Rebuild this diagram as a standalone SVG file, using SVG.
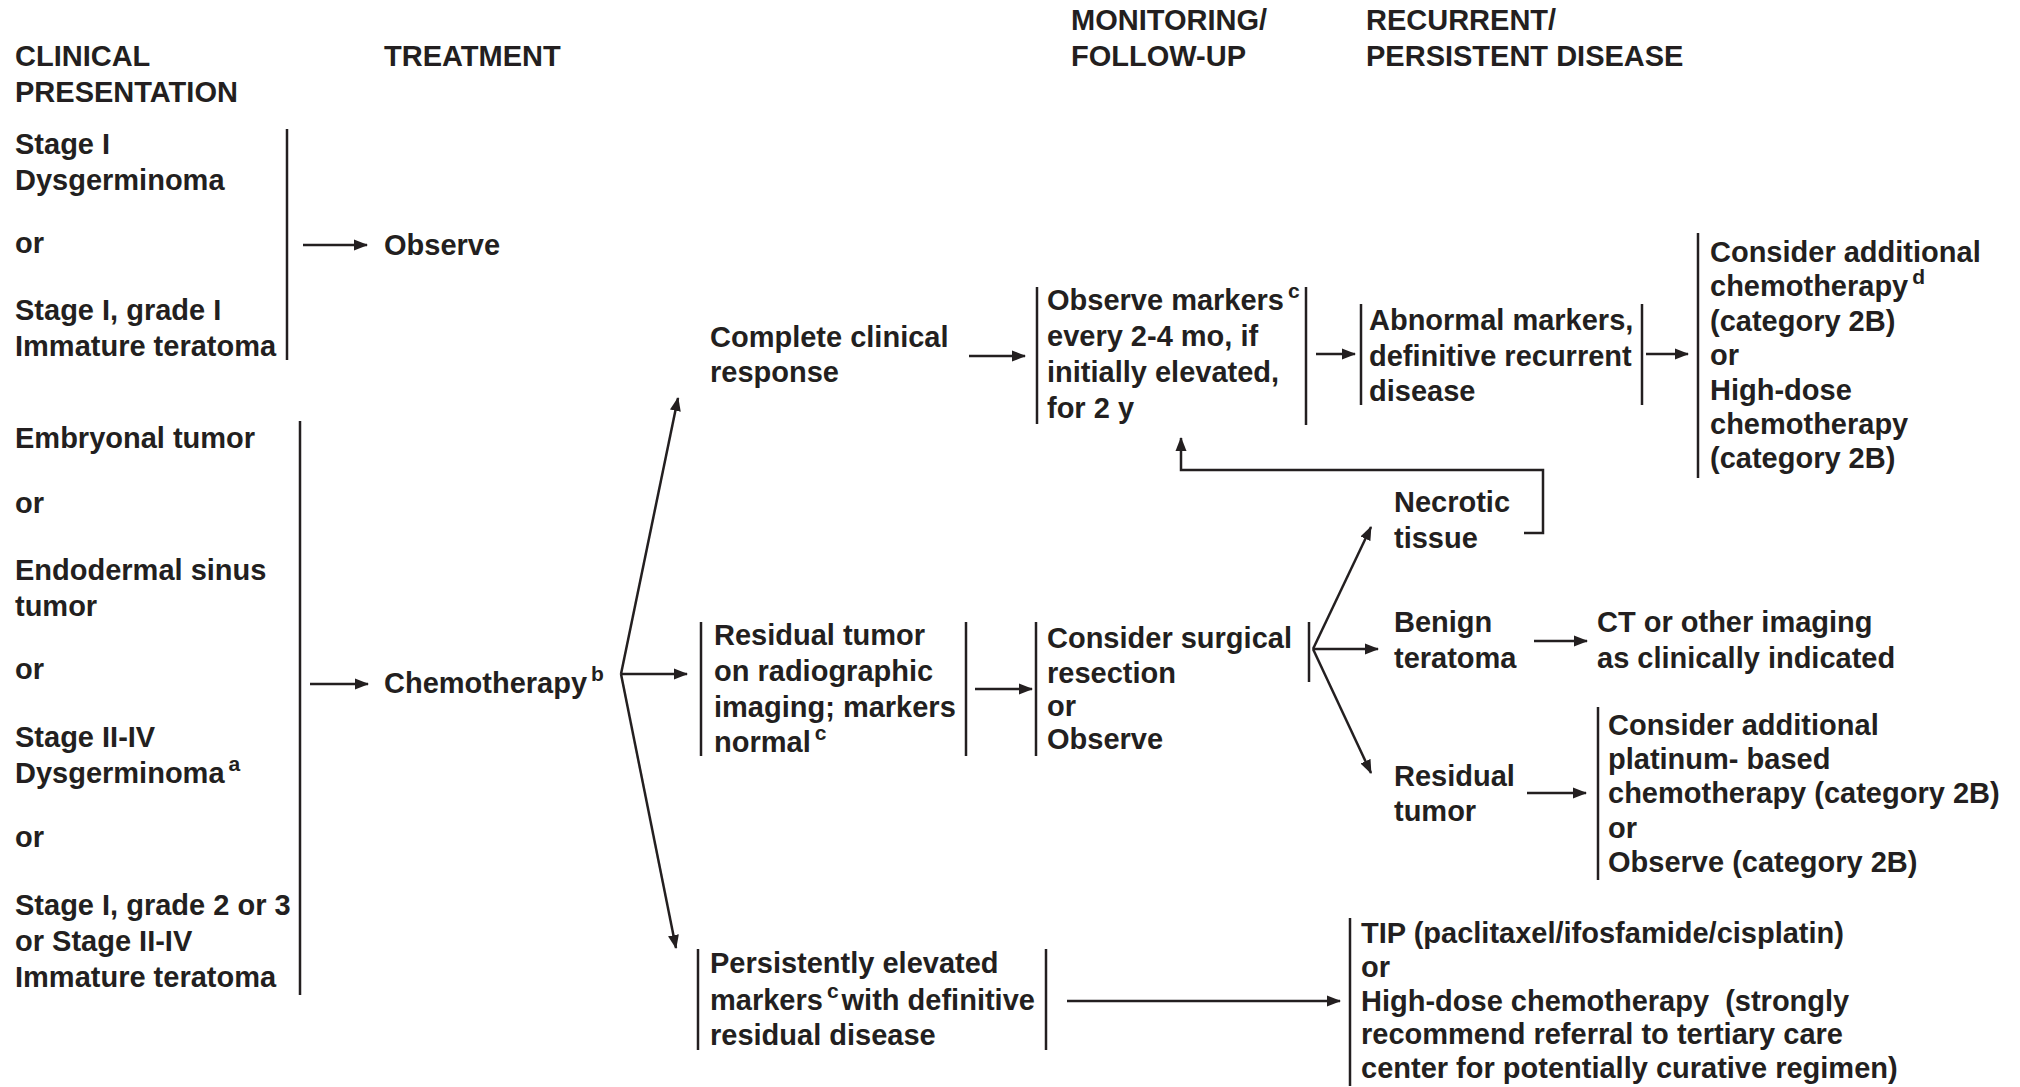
<svg xmlns="http://www.w3.org/2000/svg" width="2020" height="1087" viewBox="0 0 2020 1087">
  <style>
    .t { font-family: "Liberation Sans", Arial, sans-serif; font-weight: bold; font-size: 29px; fill: #231f20; }
    .sup { font-size: 21px; }
    .bar { stroke: #231f20; stroke-width: 2.5; fill: none; }
    .ln { stroke: #231f20; stroke-width: 2.5; fill: none; }
    .arr { stroke: #231f20; stroke-width: 2.5; fill: none; marker-end: url(#ah); }
  </style>
  <defs>
    <marker id="ah" markerWidth="14" markerHeight="12" refX="13" refY="6" orient="auto" markerUnits="userSpaceOnUse">
      <path d="M0,0.5 L14,6 L0,11.5 z" fill="#231f20"/>
    </marker>
  </defs>
  <rect width="2020" height="1087" fill="#ffffff"/>

  <!-- column headings -->
  <g id="headings" class="t">
    <text x="15" y="66">CLINICAL</text>
    <text x="15" y="102">PRESENTATION</text>
    <text x="384" y="66">TREATMENT</text>
    <text x="1071" y="30">MONITORING/</text>
    <text x="1071" y="66">FOLLOW-UP</text>
    <text x="1366" y="30">RECURRENT/</text>
    <text x="1366" y="66">PERSISTENT DISEASE</text>
  </g>

  <!-- presentation group 1 -->
  <g id="presentation-early">
    <text class="t" x="15" y="154">Stage I</text>
    <text class="t" x="15" y="190">Dysgerminoma</text>
    <text class="t" x="15" y="253">or</text>
    <text class="t" x="15" y="320">Stage I, grade I</text>
    <text class="t" x="15" y="356">Immature teratoma</text>
    <line class="bar" x1="287" y1="129" x2="287" y2="360"/>
  </g>

  <!-- presentation group 2 -->
  <g id="presentation-advanced">
    <text class="t" x="15" y="448">Embryonal tumor</text>
    <text class="t" x="15" y="513">or</text>
    <text class="t" x="15" y="580">Endodermal sinus</text>
    <text class="t" x="15" y="616">tumor</text>
    <text class="t" x="15" y="679">or</text>
    <text class="t" x="15" y="747">Stage II-IV</text>
    <text class="t" x="15" y="783">Dysgerminoma<tspan class="sup" dx="4" dy="-12">a</tspan></text>
    <text class="t" x="15" y="847">or</text>
    <text class="t" x="15" y="915">Stage I, grade 2 or 3</text>
    <text class="t" x="15" y="951">or Stage II-IV</text>
    <text class="t" x="15" y="987">Immature teratoma</text>
    <line class="bar" x1="300" y1="421" x2="300" y2="995"/>
  </g>

  <g id="observe">
    <text class="t" x="384" y="255">Observe</text>
  </g>

  <g id="chemotherapy">
    <text class="t" x="384" y="693">Chemotherapy<tspan class="sup" dx="4" dy="-12">b</tspan></text>
  </g>

  <g id="complete-response">
    <text class="t" x="710" y="347">Complete clinical</text>
    <text class="t" x="710" y="382">response</text>
  </g>

  <g id="observe-markers">
    <line class="bar" x1="1037" y1="287" x2="1037" y2="424"/>
    <line class="bar" x1="1306" y1="287" x2="1306" y2="425"/>
    <text class="t" x="1047" y="310">Observe markers<tspan class="sup" dx="4" dy="-12">c</tspan></text>
    <text class="t" x="1047" y="346">every 2-4 mo, if</text>
    <text class="t" x="1047" y="382">initially elevated,</text>
    <text class="t" x="1047" y="418">for 2 y</text>
  </g>

  <g id="abnormal-markers">
    <line class="bar" x1="1361" y1="304" x2="1361" y2="405"/>
    <line class="bar" x1="1642" y1="304" x2="1642" y2="405"/>
    <text class="t" x="1369" y="330">Abnormal markers,</text>
    <text class="t" x="1369" y="366">definitive recurrent</text>
    <text class="t" x="1369" y="401">disease</text>
  </g>

  <g id="recurrent-options">
    <line class="bar" x1="1698" y1="233" x2="1698" y2="478"/>
    <text class="t" x="1710" y="262">Consider additional</text>
    <text class="t" x="1710" y="296">chemotherapy<tspan class="sup" dx="4" dy="-12">d</tspan></text>
    <text class="t" x="1710" y="331">(category 2B)</text>
    <text class="t" x="1710" y="365">or</text>
    <text class="t" x="1710" y="400">High-dose</text>
    <text class="t" x="1710" y="434">chemotherapy</text>
    <text class="t" x="1710" y="468">(category 2B)</text>
  </g>

  <g id="residual-imaging">
    <line class="bar" x1="701" y1="622" x2="701" y2="756"/>
    <line class="bar" x1="966" y1="622" x2="966" y2="756"/>
    <text class="t" x="714" y="645">Residual tumor</text>
    <text class="t" x="714" y="681">on radiographic</text>
    <text class="t" x="714" y="717">imaging; markers</text>
    <text class="t" x="714" y="752">normal<tspan class="sup" dx="4" dy="-12">c</tspan></text>
  </g>

  <g id="surgical-resection">
    <line class="bar" x1="1036" y1="622" x2="1036" y2="756"/>
    <line class="bar" x1="1309" y1="622" x2="1309" y2="682"/>
    <text class="t" x="1047" y="648">Consider surgical</text>
    <text class="t" x="1047" y="683">resection</text>
    <text class="t" x="1047" y="716">or</text>
    <text class="t" x="1047" y="749">Observe</text>
  </g>

  <g id="necrotic-tissue">
    <text class="t" x="1394" y="512">Necrotic</text>
    <text class="t" x="1394" y="548">tissue</text>
  </g>

  <g id="benign-teratoma">
    <text class="t" x="1394" y="632">Benign</text>
    <text class="t" x="1394" y="668">teratoma</text>
  </g>

  <g id="ct-imaging">
    <text class="t" x="1597" y="632">CT or other imaging</text>
    <text class="t" x="1597" y="668">as clinically indicated</text>
  </g>

  <g id="residual-tumor">
    <text class="t" x="1394" y="786">Residual</text>
    <text class="t" x="1394" y="821">tumor</text>
  </g>

  <g id="platinum-options">
    <line class="bar" x1="1598" y1="707" x2="1598" y2="880"/>
    <text class="t" x="1608" y="735">Consider additional</text>
    <text class="t" x="1608" y="769">platinum- based</text>
    <text class="t" x="1608" y="803">chemotherapy (category 2B)</text>
    <text class="t" x="1608" y="838">or</text>
    <text class="t" x="1608" y="872">Observe (category 2B)</text>
  </g>

  <g id="persistent-markers">
    <line class="bar" x1="698" y1="949" x2="698" y2="1050"/>
    <line class="bar" x1="1046" y1="949" x2="1046" y2="1050"/>
    <text class="t" x="710" y="973">Persistently elevated</text>
    <text class="t" x="710" y="1010">markers<tspan class="sup" dx="4" dy="-12">c</tspan><tspan dx="3" dy="12">with definitive</tspan></text>
    <text class="t" x="710" y="1045">residual disease</text>
  </g>

  <g id="salvage-options">
    <line class="bar" x1="1350" y1="918" x2="1350" y2="1086"/>
    <text class="t" x="1361" y="943">TIP (paclitaxel/ifosfamide/cisplatin)</text>
    <text class="t" x="1361" y="977">or</text>
    <text class="t" x="1361" y="1011" xml:space="preserve">High-dose chemotherapy  (strongly</text>
    <text class="t" x="1361" y="1044">recommend referral to tertiary care</text>
    <text class="t" x="1361" y="1078">center for potentially curative regimen)</text>
  </g>

  <!-- connectors -->
  <g id="connectors">
    <line class="arr" x1="303" y1="245" x2="367" y2="245"/>
    <line class="arr" x1="310" y1="684" x2="368" y2="684"/>
    <line class="arr" x1="621" y1="674" x2="678" y2="398"/>
    <line class="arr" x1="621" y1="674" x2="687" y2="674"/>
    <line class="arr" x1="621" y1="674" x2="676" y2="948"/>
    <line class="arr" x1="969" y1="356" x2="1025" y2="356"/>
    <line class="arr" x1="1316" y1="354" x2="1355" y2="354"/>
    <line class="arr" x1="1646" y1="354" x2="1688" y2="354"/>
    <polyline class="arr" points="1524,533 1543,533 1543,470 1181,470 1181,438"/>
    <line class="arr" x1="975" y1="689" x2="1032" y2="689"/>
    <line class="arr" x1="1313" y1="649" x2="1371" y2="527"/>
    <line class="arr" x1="1313" y1="649" x2="1378" y2="649"/>
    <line class="arr" x1="1313" y1="649" x2="1371" y2="773"/>
    <line class="arr" x1="1534" y1="641" x2="1587" y2="641"/>
    <line class="arr" x1="1527" y1="793" x2="1586" y2="793"/>
    <line class="arr" x1="1067" y1="1001" x2="1340" y2="1001"/>
  </g>
</svg>
